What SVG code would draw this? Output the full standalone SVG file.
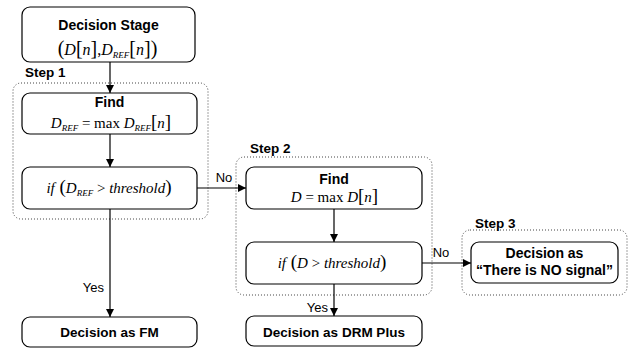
<svg xmlns="http://www.w3.org/2000/svg" width="632" height="348" viewBox="0 0 632 348">
<defs>
<marker id="ah" viewBox="0 0 10 10" refX="10" refY="5" markerWidth="8" markerHeight="8" markerUnits="userSpaceOnUse" orient="auto">
<path d="M0,0 L10,5 L0,10 z" fill="#000"/>
</marker>
<style>
.box{fill:#fff;stroke:#000;stroke-width:1.2}
.grp{fill:none;stroke:#444;stroke-width:1;stroke-dasharray:1 2}
.t{font-family:"Liberation Sans",Arial,sans-serif;font-weight:bold;font-size:14px;text-anchor:middle;fill:#000}
.step{font-family:"Liberation Sans",Arial,sans-serif;font-weight:bold;font-size:13.5px;fill:#000}
.lbl{font-family:"Liberation Sans",Arial,sans-serif;font-size:13px;fill:#000}
.m{font-family:"Liberation Serif","Times New Roman",serif;font-size:15px;text-anchor:middle;fill:#000}
.m16{font-size:16px}
.i{font-style:italic}
.sub{font-style:italic;font-size:9px}
.br{font-size:19px}
.br20{font-size:20px}
.ln{fill:none;stroke:#000;stroke-width:1.2;marker-end:url(#ah)}
</style>
</defs>
<g id="groups">
<rect class="grp" x="13" y="83" width="195" height="136" rx="8"/>
<rect class="grp" x="236" y="157" width="196" height="138" rx="8"/>
<rect class="grp" x="462" y="230" width="165" height="65" rx="8"/>
<text class="step" x="25" y="77">Step 1</text>
<text class="step" x="250" y="153">Step 2</text>
<text class="step" x="475" y="228">Step 3</text>
</g>
<g id="connectors">
<line class="ln" x1="110" y1="62" x2="110" y2="93"/>
<line class="ln" x1="110" y1="134" x2="110" y2="167"/>
<line class="ln" x1="110" y1="209" x2="110" y2="317"/>
<line class="ln" x1="197" y1="188" x2="246" y2="188"/>
<line class="ln" x1="334" y1="209" x2="334" y2="242"/>
<line class="ln" x1="334" y1="284" x2="334" y2="316"/>
<line class="ln" x1="422" y1="263" x2="471" y2="263"/>
<text class="lbl" x="104" y="292" text-anchor="end">Yes</text>
<text class="lbl" x="224" y="182" text-anchor="middle">No</text>
<text class="lbl" x="328" y="312" text-anchor="end">Yes</text>
<text class="lbl" x="441" y="257" text-anchor="middle">No</text>
</g>
<g id="decision-stage">
<rect class="box" x="22" y="7" width="173" height="55" rx="8"/>
<text class="t" x="108.5" y="30">Decision Stage</text>
<text class="m m16" x="107.5" y="55"><tspan class="br20">(</tspan><tspan class="i">D</tspan><tspan class="br20">[</tspan><tspan class="i">n</tspan><tspan class="br20">]</tspan>,<tspan class="i">D</tspan><tspan class="sub" dy="3">REF</tspan><tspan class="br20" dy="-3">[</tspan><tspan class="i">n</tspan><tspan class="br20">])</tspan></text>
</g>
<g id="find1">
<rect class="box" x="22" y="93" width="175" height="41" rx="8"/>
<text class="t" x="109.5" y="107">Find</text>
<text class="m" x="111" y="128"><tspan class="i">D</tspan><tspan class="sub" dy="3">REF</tspan><tspan dy="-3"> = max </tspan><tspan class="i">D</tspan><tspan class="sub" dy="3">REF</tspan><tspan class="br" dy="-3">[</tspan><tspan class="i">n</tspan><tspan class="br">]</tspan></text>
</g>
<g id="if1">
<rect class="box" x="22" y="167" width="175" height="42" rx="8"/>
<text class="m" x="109" y="193"><tspan class="i">if</tspan><tspan class="br"> (</tspan><tspan class="i">D</tspan><tspan class="sub" dy="3">REF</tspan><tspan dy="-3"> &gt; </tspan><tspan class="i">threshold</tspan><tspan class="br">)</tspan></text>
</g>
<g id="fm">
<rect class="box" x="22" y="317" width="175" height="30" rx="8"/>
<text class="t" x="109.5" y="337" style="font-size:13.5px">Decision as FM</text>
</g>
<g id="find2">
<rect class="box" x="246" y="167" width="176" height="42" rx="8"/>
<text class="t" x="334" y="184">Find</text>
<text class="m" x="334.5" y="202"><tspan class="i">D</tspan> = max <tspan class="i">D</tspan><tspan class="br">[</tspan><tspan class="i">n</tspan><tspan class="br">]</tspan></text>
</g>
<g id="if2">
<rect class="box" x="246" y="242" width="176" height="42" rx="8"/>
<text class="m" x="332" y="268"><tspan class="i">if</tspan><tspan class="br"> (</tspan><tspan class="i">D</tspan> &gt; <tspan class="i">threshold</tspan><tspan class="br">)</tspan></text>
</g>
<g id="drm">
<rect class="box" x="246" y="316" width="176" height="30" rx="8"/>
<text class="t" x="334" y="337" style="font-size:13.5px">Decision as DRM Plus</text>
</g>
<g id="nosignal">
<rect class="box" x="471" y="242" width="147" height="41" rx="8"/>
<text class="t" x="544.5" y="258">Decision as</text>
<text class="t" x="544.5" y="275">“There is NO signal”</text>
</g>
</svg>
